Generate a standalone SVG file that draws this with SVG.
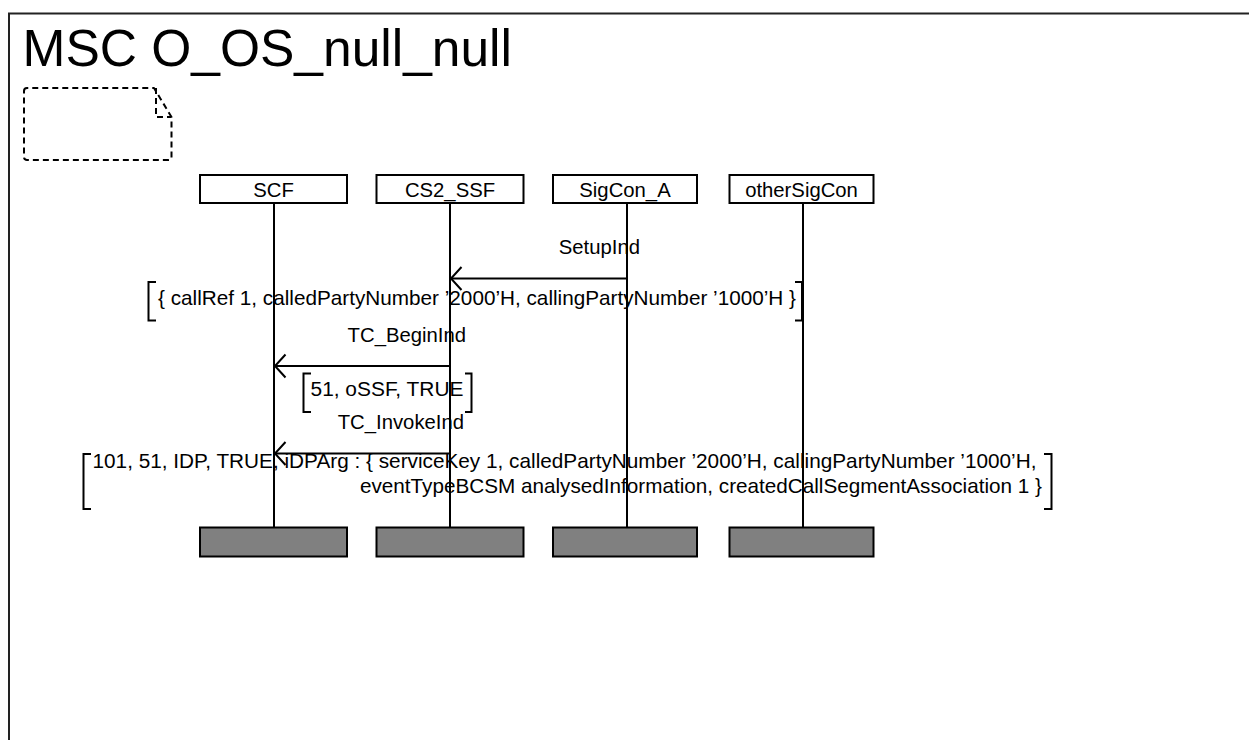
<svg xmlns="http://www.w3.org/2000/svg" width="1249" height="740" viewBox="0 0 1249 740">
<style>
  .frame { fill: none; stroke: #222; stroke-width: 2; }
  .title { font-family: "Liberation Sans", Arial, sans-serif; font-size: 51.5px; fill: #000; }
  .note { fill: none; stroke: #000; stroke-width: 2; stroke-dasharray: 6 4; stroke-linejoin: round; }
  .head { fill: #fff; stroke: #000; stroke-width: 2; }
  .end { fill: #808080; stroke: #000; stroke-width: 2; }
  .life { stroke: #000; stroke-width: 2; }
  .lbl { font-family: "Liberation Sans", Arial, sans-serif; font-size: 20.3px; fill: #000; }
  .mid { text-anchor: middle; }
  .endt { text-anchor: end; }
  .msg { stroke: #000; stroke-width: 2; fill: none; }
  .brk { stroke: #000; stroke-width: 2; fill: none; }
</style>
<defs>
  <marker id="open" markerWidth="14" markerHeight="26" refX="12" refY="13" orient="auto" markerUnits="userSpaceOnUse">
    <path d="M1.5,1.5 L12,13 L1.5,24.5" fill="none" stroke="#000" stroke-width="2"/>
  </marker>
</defs>
<rect class="frame" x="9" y="13.5" width="1260" height="740"/>
<text class="title" x="22.5" y="66">MSC O_OS_null_null</text>
<path class="note" d="M24,91 Q24,88 27,88 L154,88 L171.5,117 L171.5,157 Q171.5,160 168.5,160 L27,160 Q24,160 24,157 Z M156,88 L156,117 L171.5,117"/>

<g id="lifelines">
  <line class="life" x1="274" y1="203" x2="274" y2="528"/>
  <line class="life" x1="450" y1="203" x2="450" y2="528"/>
  <line class="life" x1="627" y1="203" x2="627" y2="528"/>
  <line class="life" x1="803" y1="203" x2="803" y2="528"/>
</g>

<g id="SCF">
  <rect class="head" x="200" y="175" width="147" height="28"/>
  <text class="lbl mid" x="273.5" y="196.5">SCF</text>
  <rect class="end" x="200" y="527.5" width="147" height="29"/>
</g>
<g id="CS2_SSF">
  <rect class="head" x="376.5" y="175" width="147" height="28"/>
  <text class="lbl mid" x="450" y="196.5">CS2_SSF</text>
  <rect class="end" x="376.5" y="527.5" width="147" height="29"/>
</g>
<g id="SigCon_A">
  <rect class="head" x="553" y="175" width="144" height="28"/>
  <text class="lbl mid" x="625" y="196.5">SigCon_A</text>
  <rect class="end" x="553" y="527.5" width="144" height="29"/>
</g>
<g id="otherSigCon">
  <rect class="head" x="729.5" y="175" width="144" height="28"/>
  <text class="lbl mid" x="801.5" y="196.5">otherSigCon</text>
  <rect class="end" x="729.5" y="527.5" width="144" height="29"/>
</g>

<g id="connectors">
  <line class="msg" x1="627" y1="278.5" x2="451" y2="278.5" marker-end="url(#open)"/>
  <line class="msg" x1="450" y1="366" x2="275" y2="366" marker-end="url(#open)"/>
  <line class="msg" x1="450" y1="453.5" x2="275" y2="453.5" marker-end="url(#open)"/>
</g>

<g id="labels">
  <text class="lbl endt" x="640" y="254">SetupInd</text>
  <path class="brk" d="M156,282 L148.5,282 L148.5,320.5 L156,320.5 M795,282 L802,282 L802,320.5 L795,320.5"/>
  <text class="lbl" x="158" y="305" textLength="638" lengthAdjust="spacingAndGlyphs">{ callRef 1, calledPartyNumber ’2000’H, callingPartyNumber ’1000’H }</text>

  <text class="lbl endt" x="466" y="341.5">TC_BeginInd</text>
  <path class="brk" d="M311,373.5 L303.5,373.5 L303.5,412 L311,412 M465,373.5 L471.5,373.5 L471.5,412 L465,412"/>
  <text class="lbl" x="310.5" y="395.5" textLength="153" lengthAdjust="spacingAndGlyphs">51, oSSF, TRUE</text>

  <text class="lbl endt" x="464" y="429">TC_InvokeInd</text>
  <path class="brk" d="M91,454 L83.5,454 L83.5,509 L91,509 M1044,454 L1051.5,454 L1051.5,509 L1044,509"/>
  <text class="lbl" x="92.5" y="468" textLength="944" lengthAdjust="spacingAndGlyphs">101, 51, IDP, TRUE, iDPArg : { serviceKey 1, calledPartyNumber ’2000’H, callingPartyNumber ’1000’H,</text>
  <text class="lbl" x="360" y="493" textLength="682" lengthAdjust="spacingAndGlyphs">eventTypeBCSM analysedInformation, createdCallSegmentAssociation 1 }</text>
</g>
</svg>
